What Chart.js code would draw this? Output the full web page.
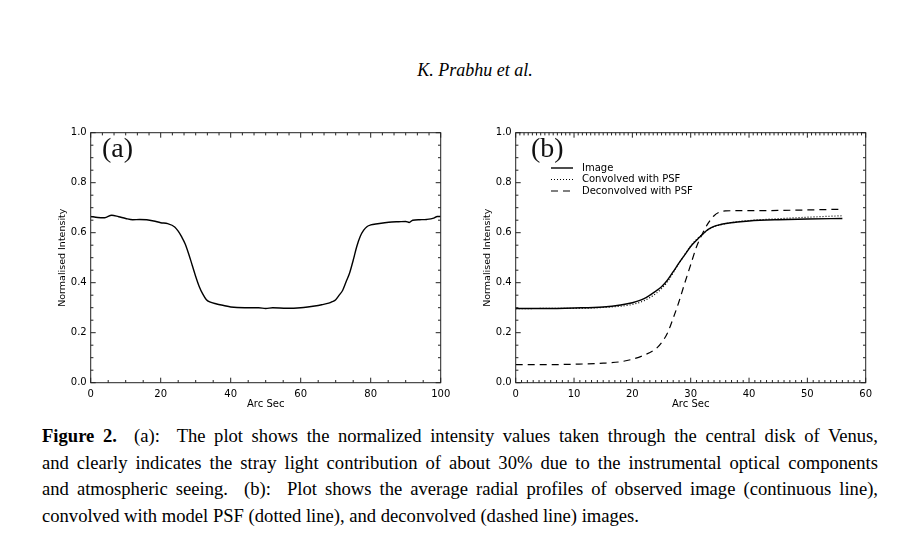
<!DOCTYPE html>
<html lang="en">
<head>
    <meta charset="UTF-8">
    <title>Figure 2 - Venus intensity profiles</title>
    <script src="https://cdn.jsdelivr.net/npm/chart.js@4"></script>
    <style>
        body { margin: 0; background: #fff; width: 908px; height: 549px; overflow: hidden; position: relative; }
        .header { position: absolute; left: 0; width: 950px; top: 60px; text-align: center;
                  font: italic 18px "Liberation Serif", serif; color: #000; }
        canvas { position: absolute; top: 100px; }
        #chartA { left: 35px; }
        #chartB { left: 460px; }
        .caption { position: absolute; left: 42px; top: 423px; width: 836px;
                   font: 18.6px/26.5px "Liberation Serif", serif; color: #000; }
        .caption div { text-align: justify; text-align-last: justify; }
        .caption div.last { text-align-last: left; }
    </style>
</head>
<body>
    <div class="header">K. Prabhu et al.</div>

    <canvas id="chartA" width="425" height="320"></canvas>
    <canvas id="chartB" width="448" height="320"></canvas>

    <div class="caption">
        <div><b>Figure 2.</b>&nbsp; (a):&nbsp; The plot shows the normalized intensity values taken through the central disk of Venus,</div>
        <div>and clearly indicates the stray light contribution of about 30% due to the instrumental optical components</div>
        <div>and atmospheric seeing.&nbsp; (b):&nbsp; Plot shows the average radial profiles of observed image (continuous line),</div>
        <div class="last">convolved with model PSF (dotted line), and deconvolved (dashed line) images.</div>
    </div>

    <script>
        // Panel (a): cut through the disk
        var xA = [0, 2, 4, 6, 8, 10, 12, 14, 16, 18, 20, 22, 24, 25, 26, 27, 28, 29, 30, 31, 32, 33, 34, 36, 38,
                  40, 44, 48, 50, 52, 56, 60, 62, 64, 66, 68, 69, 70, 71, 72, 73, 74, 75, 76, 77, 78, 79, 80,
                  82, 84, 86, 88, 90, 91, 92, 94, 96, 98, 99, 100];
        var yA = [0.665, 0.661, 0.660, 0.670, 0.664, 0.657, 0.652, 0.653, 0.652, 0.647, 0.640, 0.636, 0.623,
                  0.606, 0.583, 0.555, 0.515, 0.470, 0.425, 0.385, 0.355, 0.333, 0.323, 0.315, 0.309,
                  0.303, 0.300, 0.300, 0.297, 0.300, 0.298, 0.300, 0.303, 0.307, 0.312, 0.318, 0.324, 0.332,
                  0.350, 0.370, 0.405, 0.440, 0.490, 0.544, 0.585, 0.610, 0.625, 0.631,
                  0.636, 0.640, 0.643, 0.644, 0.645, 0.641, 0.650, 0.652, 0.653, 0.658, 0.665, 0.665];

        // Panel (b): radial profiles
        var xB = [0, 5, 10, 15, 18, 20, 22, 24, 25, 26, 27, 28, 29, 30, 31, 32, 33, 34, 35, 36, 38, 40, 45, 50, 56];
        var imageB = [0.297, 0.297, 0.299, 0.303, 0.311, 0.320, 0.336, 0.366, 0.384, 0.410, 0.444, 0.479, 0.512,
                      0.545, 0.570, 0.593, 0.613, 0.625, 0.632, 0.637, 0.643, 0.647, 0.652, 0.655, 0.657];
        var convB = [0.296, 0.297, 0.297, 0.301, 0.306, 0.313, 0.328, 0.356, 0.376, 0.403, 0.440, 0.478, 0.513,
                     0.547, 0.573, 0.594, 0.612, 0.624, 0.631, 0.637, 0.644, 0.649, 0.656, 0.662, 0.668];
        var deconvB = [0.072, 0.072, 0.074, 0.078, 0.084, 0.094, 0.110, 0.135, 0.160, 0.198, 0.258, 0.325, 0.400,
                       0.472, 0.544, 0.596, 0.638, 0.668, 0.683, 0.687, 0.688, 0.688, 0.689, 0.691, 0.694];
        var seriesNames = ['Image', 'Convolved with PSF', 'Deconvolved with PSF'];

        var yMax = 1.0, yStep = 0.2;
        var xMaxA = 100, xStepA = 20;
        var xMaxB = 60, xStepB = 10;

        var tickFont = { family: 'DejaVu Sans', size: 10 };

        function points(xs, ys) {
            return xs.map(function (x, i) { return { x: x, y: ys[i] }; });
        }

        function isMajor(v, step) {
            var r = v / step;
            return Math.abs(r - Math.round(r)) < 1e-6;
        }

        // IDL style box with inward ticks on all four sides
        var frameTicks = {
            id: 'frameTicks',
            afterDraw: function (chart, args, o) {
                var ctx = chart.ctx, a = chart.chartArea;
                var sx = chart.scales.x, sy = chart.scales.y;
                ctx.save();
                ctx.strokeStyle = '#222';
                ctx.lineWidth = 1;
                ctx.strokeRect(a.left, a.top, a.right - a.left, a.bottom - a.top);
                ctx.beginPath();
                function run(min, max, step, major, cb) {
                    for (var i = 0; ; i++) {
                        var v = min + i * step;
                        if (v > max + 1e-9) break;
                        cb(v, isMajor(v, major) ? 5 : 2.7);
                    }
                }
                run(sx.min, sx.max, o.xMinor, o.xMajor, function (v, L) {
                    var p = sx.getPixelForValue(v);
                    ctx.moveTo(p, a.bottom); ctx.lineTo(p, a.bottom - L);
                });
                run(sx.min, sx.max, o.xTopMinor, o.xMajor, function (v, L) {
                    var p = sx.getPixelForValue(v);
                    ctx.moveTo(p, a.top); ctx.lineTo(p, a.top + L);
                });
                run(sy.min, sy.max, o.yMinor, o.yMajor, function (v, L) {
                    var p = sy.getPixelForValue(v);
                    ctx.moveTo(a.left, p); ctx.lineTo(a.left + L, p);
                    ctx.moveTo(a.right, p); ctx.lineTo(a.right - L, p);
                });
                ctx.stroke();

                // panel letter
                ctx.fillStyle = '#111';
                ctx.font = '28px "Liberation Serif"';
                ctx.textBaseline = 'alphabetic';
                ctx.fillText(o.letter, o.letterX, o.letterY);

                // legend, drawn from the datasets
                if (o.legend) {
                    ctx.font = '10px "DejaVu Sans"';
                    ctx.textBaseline = 'middle';
                    chart.data.datasets.forEach(function (ds, i) {
                        var yy = o.legend.y + i * o.legend.gap;
                        ctx.beginPath();
                        ctx.strokeStyle = '#000';
                        ctx.lineWidth = ds.borderWidth;
                        ctx.setLineDash(ds.borderDash || []);
                        ctx.moveTo(o.legend.x, yy); ctx.lineTo(o.legend.x + o.legend.len, yy);
                        ctx.stroke();
                        ctx.setLineDash([]);
                        ctx.fillStyle = '#000';
                        ctx.fillText(ds.label, o.legend.x + o.legend.len + 9, yy);
                    });
                }
                ctx.restore();
            }
        };

        function makeOptions(xMax, xStep, padLeft, padRight, frame) {
            return {
                responsive: false,
                animation: false,
                events: [],
                layout: { padding: { left: padLeft, right: padRight, top: 32.7, bottom: 0 } },
                plugins: { legend: { display: false }, tooltip: { enabled: false }, frameTicks: frame },
                elements: { point: { radius: 0 } },
                scales: {
                    x: {
                        type: 'linear', min: 0, max: xMax,
                        grid: { display: false, drawTicks: false },
                        border: { display: false },
                        ticks: { stepSize: xStep, padding: 6, color: '#000', font: tickFont, maxRotation: 0, autoSkip: false },
                        title: { display: true, text: 'Arc Sec', color: '#000', font: tickFont, padding: { top: 0, bottom: 10 } },
                        afterFit: function (s) { s.height = 37.3; }
                    },
                    y: {
                        type: 'linear', min: 0, max: yMax,
                        grid: { display: false, drawTicks: false },
                        border: { display: false },
                        ticks: { stepSize: yStep, padding: 4, color: '#000', font: tickFont,
                                 callback: function (v) { return v.toFixed(1); } },
                        title: { display: true, text: 'Normalised Intensity', color: '#000', font: { family: 'DejaVu Sans', size: 9.5 },
                                 padding: { top: 7, bottom: 0 } },
                        afterFit: function (s) { s.width = 40.4; }
                    }
                }
            };
        }

        new Chart(document.getElementById('chartA'), {
            type: 'line',
            data: {
                datasets: [{
                    label: 'Profile',
                    data: points(xA, yA),
                    borderColor: '#000',
                    borderWidth: 1.4,
                    cubicInterpolationMode: 'monotone'
                }]
            },
            options: makeOptions(xMaxA, xStepA, 15.3, 19.3, {
                xMajor: 20, xMinor: 5, xTopMinor: 20 / 6, yMajor: 0.2, yMinor: 0.05,
                letter: '(a)', letterX: 67, letterY: 57
            }),
            plugins: [frameTicks]
        });

        new Chart(document.getElementById('chartB'), {
            type: 'line',
            data: {
                datasets: [
                    { label: seriesNames[0], data: points(xB, imageB), borderColor: '#000', borderWidth: 1.4,
                      cubicInterpolationMode: 'monotone' },
                    { label: seriesNames[1], data: points(xB, convB), borderColor: '#000', borderWidth: 1.2,
                      borderDash: [1, 2], cubicInterpolationMode: 'monotone' },
                    { label: seriesNames[2], data: points(xB, deconvB), borderColor: '#000', borderWidth: 1.2,
                      borderDash: [7, 5], cubicInterpolationMode: 'monotone' }
                ]
            },
            options: makeOptions(xMaxB, xStepB, 15.3, 42.3, {
                xMajor: 10, xMinor: 1, xTopMinor: 10 / 14, yMajor: 0.2, yMinor: 0.05,
                letter: '(b)', letterX: 71, letterY: 57,
                legend: { x: 91, y: 68, gap: 11.5, len: 22 }
            }),
            plugins: [frameTicks]
        });
    </script>
</body>
</html>
